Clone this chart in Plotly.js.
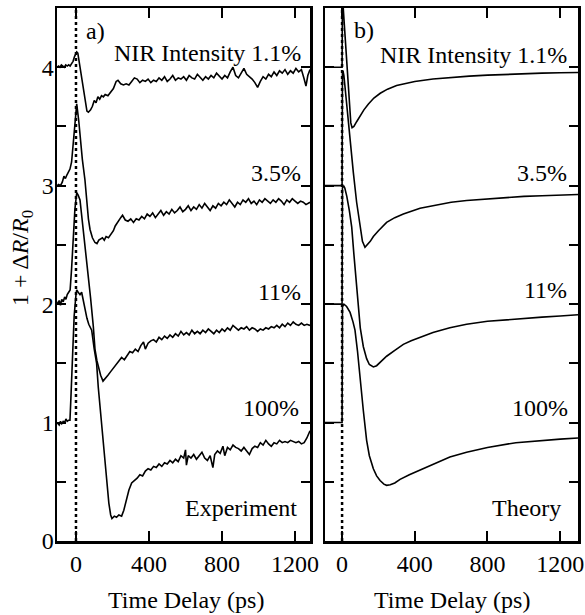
<!DOCTYPE html>
<html>
<head>
<meta charset="utf-8">
<script src="https://cdn.plot.ly/plotly-3.0.1.min.js"></script>
<style>html,body{margin:0;padding:0;background:#fff}#chart{width:585px;height:615px}</style>
</head>
<body>
<div id="chart"></div>
<script>
// ---------- Data ----------
const pumpTime = 0;
const xTicks = [0, 400, 800, 1200];
const yTickVals = [0, 0.5, 1, 1.5, 2, 2.5, 3, 3.5, 4, 4.5];
const yTickText = ['0', '', '1', '', '2', '', '3', '', '4', ''];

// Experiment, NIR 1.1 %
const exp1x = [-104,-95,-88,-80,-72,-64,-56,-48,-40,-32,-24,-16,-8,4,10,20,30,40,50,60,68,80,90,100,110,120,130,140,150,160,175,190,205,220,230,245,260,275,290,305,320,335,350,365,380,395,410,425,440,455,470,485,500,515,530,545,560,575,590,605,620,635,650,665,680,695,710,725,740,755,770,785,800,815,830,845,860,875,890,905,920,935,950,965,980,995,1010,1025,1040,1055,1070,1085,1100,1115,1130,1145,1160,1175,1190,1205,1220,1235,1250,1260,1270,1282];
const exp1y = [4.00,4.01,4.00,4.02,4.01,4.00,4.02,4.01,4.02,4.01,4.03,4.05,4.09,4.13,4.12,4.02,3.90,3.80,3.70,3.63,3.62,3.64,3.67,3.72,3.70,3.75,3.73,3.76,3.75,3.77,3.76,3.79,3.82,3.88,3.89,3.86,3.85,3.86,3.85,3.88,3.91,3.90,3.87,3.89,3.88,3.90,3.87,3.89,3.88,3.91,3.89,3.92,3.88,3.90,3.93,3.89,3.91,3.90,3.92,3.89,3.93,3.91,3.90,3.94,3.91,3.89,3.92,3.90,3.93,3.91,3.95,3.92,3.90,3.93,3.91,3.96,4.00,3.93,3.91,3.95,3.99,3.94,3.92,3.90,3.87,3.83,3.88,3.92,3.90,3.94,3.92,3.96,3.93,3.97,3.95,3.98,3.94,3.97,3.95,3.99,3.96,3.98,3.90,3.84,3.93,3.98];

// Experiment, NIR 3.5 %
const exp2x = [-104,-95,-85,-75,-66,-58,-50,-42,-33,-24,-15,-6,4,15,25,35,49,60,68,77,90,104,115,125,135,145,155,165,178,190,205,215,230,245,255,270,285,300,315,330,345,360,375,390,405,420,435,450,465,480,495,510,525,540,555,570,585,600,615,630,645,660,675,690,705,720,735,750,765,780,795,810,825,840,855,870,885,900,915,930,945,960,975,990,1005,1020,1035,1050,1065,1080,1095,1110,1125,1140,1155,1170,1185,1200,1215,1230,1245,1260,1282];
const exp2y = [3.00,3.01,3.00,3.03,3.08,3.06,3.09,3.11,3.14,3.20,3.36,3.55,3.69,3.55,3.38,3.22,3.05,2.85,2.72,2.63,2.56,2.52,2.51,2.54,2.55,2.56,2.54,2.57,2.56,2.59,2.62,2.66,2.70,2.73,2.75,2.71,2.70,2.72,2.69,2.72,2.71,2.74,2.72,2.76,2.74,2.77,2.73,2.76,2.79,2.75,2.78,2.76,2.80,2.77,2.79,2.82,2.78,2.80,2.83,2.79,2.82,2.80,2.84,2.81,2.85,2.82,2.79,2.83,2.81,2.85,2.83,2.86,2.84,2.88,2.85,2.82,2.86,2.84,2.88,2.86,2.89,2.85,2.87,2.84,2.88,2.86,2.89,2.87,2.85,2.88,2.86,2.89,2.87,2.84,2.88,2.86,2.89,2.87,2.85,2.87,2.86,2.84,2.86];

// Experiment, NIR 11 %
const exp3x = [-104,-92,-85,-78,-70,-62,-55,-48,-40,-32,-24,-15,-6,4,12,22,35,49,60,68,80,95,104,115,125,135,148,160,175,190,205,220,235,250,265,280,295,310,325,340,355,370,380,395,410,425,440,455,470,485,500,515,530,545,560,575,590,605,620,635,650,665,680,695,710,725,740,755,770,785,800,815,830,845,860,875,890,905,920,935,950,965,980,995,1010,1025,1040,1055,1070,1085,1100,1115,1130,1145,1160,1175,1190,1205,1220,1235,1250,1265,1282];
const exp3y = [2.00,2.03,1.99,2.04,2.02,2.06,2.04,2.08,2.10,2.12,2.30,2.55,2.80,2.94,2.92,2.88,2.70,2.49,2.33,2.23,2.05,1.81,1.62,1.52,1.45,1.40,1.35,1.37,1.40,1.43,1.46,1.48,1.52,1.55,1.53,1.57,1.60,1.59,1.62,1.60,1.65,1.68,1.62,1.67,1.69,1.70,1.68,1.72,1.70,1.73,1.71,1.74,1.72,1.75,1.73,1.77,1.74,1.76,1.74,1.78,1.75,1.77,1.75,1.78,1.76,1.79,1.77,1.75,1.78,1.76,1.79,1.77,1.80,1.78,1.82,1.80,1.78,1.80,1.79,1.81,1.78,1.80,1.79,1.77,1.79,1.78,1.80,1.79,1.81,1.80,1.82,1.80,1.83,1.81,1.84,1.82,1.85,1.83,1.82,1.84,1.82,1.83,1.82];

// Experiment, NIR 100 %
const exp4x = [-104,-92,-85,-78,-70,-62,-55,-48,-40,-33,-28,-20,-10,0,4,12,22,31,40,49,60,70,86,100,113,122,131,145,158,168,180,190,197,210,222,235,250,262,275,290,305,320,335,350,365,380,395,410,425,440,455,470,485,500,515,530,545,560,575,590,600,605,615,630,645,660,675,690,705,720,735,750,760,775,790,805,815,830,845,860,875,890,905,920,935,950,965,980,995,1010,1025,1040,1055,1070,1085,1100,1115,1130,1145,1160,1175,1190,1205,1220,1235,1250,1265,1282];
const exp4y = [1.00,0.98,1.01,0.99,1.01,1.00,1.03,1.01,1.02,1.02,1.20,1.60,1.90,2.08,2.12,2.10,2.08,2.10,2.02,1.95,1.88,1.83,1.78,1.62,1.50,1.30,1.15,0.91,0.67,0.48,0.32,0.22,0.19,0.21,0.20,0.22,0.21,0.26,0.34,0.43,0.49,0.51,0.53,0.56,0.55,0.59,0.61,0.60,0.63,0.62,0.65,0.63,0.66,0.65,0.68,0.66,0.69,0.67,0.72,0.70,0.77,0.64,0.72,0.70,0.73,0.69,0.72,0.75,0.70,0.68,0.72,0.62,0.73,0.76,0.74,0.80,0.72,0.79,0.77,0.81,0.79,0.78,0.76,0.79,0.76,0.73,0.78,0.80,0.79,0.83,0.81,0.85,0.82,0.80,0.83,0.82,0.85,0.83,0.84,0.83,0.85,0.84,0.83,0.84,0.82,0.83,0.87,0.93];

// Theory curves
const th1x = [-94,0,2,10,20,30,40,48,55,65,80,100,120,145,175,210,250,300,350,400,500,600,700,800,900,1000,1100,1200,1298];
const th1y = [4.00,4.00,4.60,4.40,4.17,3.93,3.70,3.53,3.49,3.50,3.54,3.59,3.64,3.69,3.74,3.78,3.815,3.845,3.865,3.88,3.90,3.915,3.925,3.933,3.94,3.945,3.95,3.953,3.956];

const th2x = [-94,0,2,5,10,18,26,40,62,80,99,112,126,140,155,172,200,245,290,337,380,429,500,600,685,800,900,1000,1100,1200,1298];
const th2y = [3.00,3.00,3.95,3.97,3.93,3.80,3.67,3.42,3.11,2.86,2.65,2.53,2.48,2.50,2.53,2.57,2.62,2.69,2.73,2.76,2.785,2.81,2.83,2.86,2.875,2.89,2.90,2.91,2.915,2.92,2.925];

const th3x = [-94,0,2,8,15,26,40,53,65,75,85,100,117,135,150,172,190,210,245,290,337,380,429,500,593,685,800,956,1100,1200,1298];
const th3y = [2.00,2.00,2.98,3.00,2.98,2.91,2.79,2.65,2.42,2.22,2.03,1.80,1.64,1.54,1.49,1.47,1.48,1.51,1.56,1.61,1.66,1.69,1.72,1.76,1.80,1.83,1.855,1.87,1.89,1.90,1.91];

const th4x = [-94,0,2,10,25,44,60,71,85,99,117,135,150,172,190,209,230,245,265,290,319,370,429,500,593,685,800,956,1100,1200,1298];
const th4y = [1.00,1.00,1.98,2.00,1.98,1.93,1.85,1.78,1.60,1.36,1.10,0.85,0.72,0.61,0.55,0.51,0.48,0.47,0.475,0.49,0.52,0.56,0.60,0.65,0.71,0.75,0.79,0.83,0.85,0.86,0.87];

// ---------- Build ----------
const FONT = "'Liberation Serif', 'Times New Roman', Times, serif";
const W = 585, H = 615;
const px = v => v / W, py = v => 1 - v / H;
const lineStyle = {color: '#000', width: 1.6};

function tr(x, y, xa, ya) {
  return {x: x, y: y, type: 'scatter', mode: 'lines', line: lineStyle,
          xaxis: xa, yaxis: ya, hoverinfo: 'skip', showlegend: false};
}
const data = [
  tr(exp1x, exp1y, 'x', 'y'), tr(exp2x, exp2y, 'x', 'y'),
  tr(exp3x, exp3y, 'x', 'y'), tr(exp4x, exp4y, 'x', 'y'),
  tr(th1x, th1y, 'x2', 'y2'), tr(th2x, th2y, 'x2', 'y2'),
  tr(th3x, th3y, 'x2', 'y2'), tr(th4x, th4y, 'x2', 'y2')
];

const xBase = {
  tickvals: xTicks, ticks: 'inside', ticklen: 10, tickwidth: 2, tickcolor: '#000',
  showline: true, linewidth: 2.5, linecolor: '#000', mirror: 'ticks',
  showgrid: false, zeroline: false, tickfont: {family: FONT, size: 24, color: '#000'}
};
const yBase = {
  range: [0, 4.5], tickvals: yTickVals, ticktext: yTickText,
  ticks: 'inside', ticklen: 9, tickwidth: 2, tickcolor: '#000',
  showline: true, linewidth: 2.5, linecolor: '#000', mirror: 'ticks',
  showgrid: false, zeroline: false, tickfont: {family: FONT, size: 24, color: '#000'},
  ticklabelstandoff: -4,
  domain: [py(541), py(8)]
};

function ann(text, x, y, xanchor, extra) {
  return Object.assign({text: text, xref: 'paper', yref: 'paper', x: px(x), y: py(y),
    xanchor: xanchor, yanchor: 'middle', showarrow: false,
    font: {family: FONT, size: 24, color: '#000'}}, extra || {});
}

const layout = {
  width: W, height: H, margin: {l: 0, r: 0, t: 0, b: 0},
  paper_bgcolor: '#fff', plot_bgcolor: '#fff', showlegend: false,
  font: {family: FONT, color: '#000'},
  xaxis: Object.assign({}, xBase, {domain: [px(57), px(310)], range: [-104, 1282], anchor: 'y'}),
  yaxis: Object.assign({}, yBase, {anchor: 'x'}),
  xaxis2: Object.assign({}, xBase, {domain: [px(325), px(578)], range: [-94, 1298], anchor: 'y2'}),
  yaxis2: Object.assign({}, yBase, {anchor: 'x2', showticklabels: false}),
  shapes: [
    {type: 'line', xref: 'x', yref: 'y domain', x0: pumpTime, x1: pumpTime, y0: 0, y1: 1,
     line: {color: '#000', width: 2.5, dash: 'dot'}},
    {type: 'line', xref: 'x2', yref: 'y2 domain', x0: pumpTime, x1: pumpTime, y0: 0, y1: 1,
     line: {color: '#000', width: 2.5, dash: 'dot'}}
  ],
  annotations: [
    ann('1 + Δ<i>R</i>/<i>R</i><sub>0</sub>', 22, 258, 'center', {textangle: -90}),
    ann('Time Delay (ps)', 186, 600, 'center'),
    ann('Time Delay (ps)', 452, 600, 'center'),
    ann('a)', 84, 31, 'left'),
    ann('NIR Intensity 1.1%', 303, 53, 'right'),
    ann('3.5%', 303, 173, 'right'),
    ann('11%', 303, 292, 'right'),
    ann('100%', 301, 408, 'right'),
    ann('Experiment', 299, 508, 'right'),
    ann('b)', 352, 30, 'left'),
    ann('NIR Intensity 1.1%', 569, 55, 'right'),
    ann('3.5%', 569, 173, 'right'),
    ann('11%', 569, 290, 'right'),
    ann('100%', 570, 408, 'right'),
    ann('Theory', 563, 508, 'right')
  ]
};

Plotly.newPlot('chart', data, layout, {staticPlot: true, displayModeBar: false});
</script>
</body>
</html>
